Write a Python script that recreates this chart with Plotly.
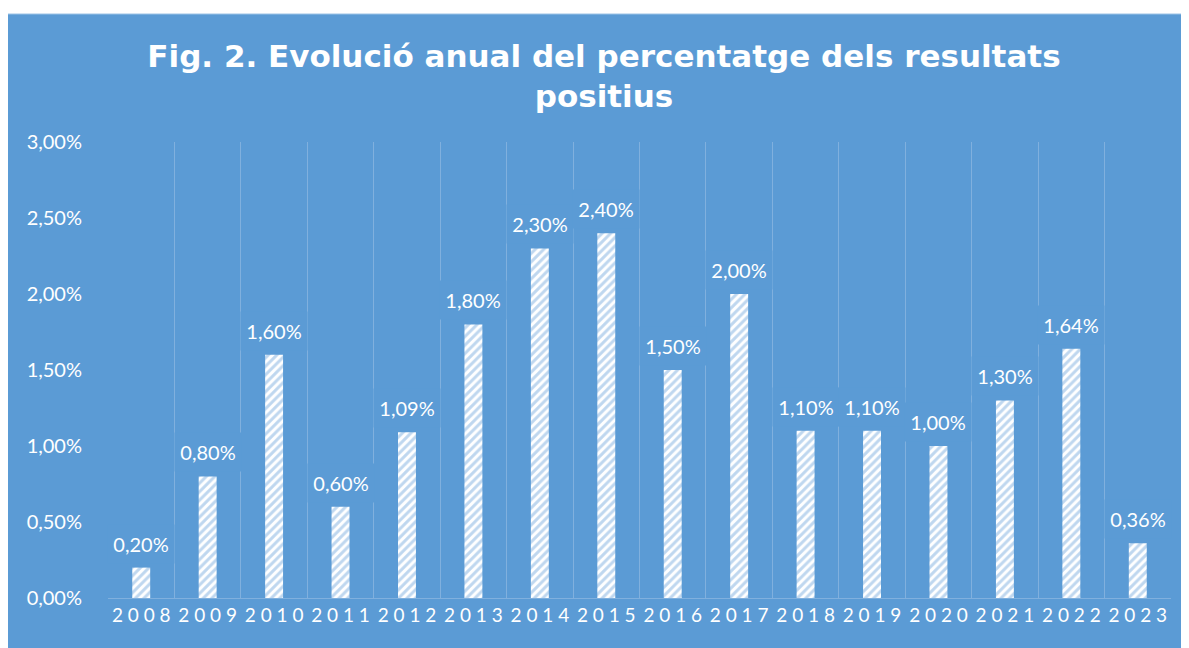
import plotly.graph_objects as go

years = ["2008", "2009", "2010", "2011", "2012", "2013", "2014", "2015",
         "2016", "2017", "2018", "2019", "2020", "2021", "2022", "2023"]
values = [0.0020, 0.0080, 0.0160, 0.0060, 0.0109, 0.0180, 0.0230, 0.0240,
          0.0150, 0.0200, 0.0110, 0.0110, 0.0100, 0.0130, 0.0164, 0.0036]
year_labels = [" ".join(y) for y in years]
y_ticks = [0, 0.005, 0.01, 0.015, 0.02, 0.025, 0.03]

BG = "#5B9BD5"
GRID = "#80B0DE"
LABEL_FONT = "Lato, Noto Sans, sans-serif"

fig = go.Figure()
fig.add_trace(go.Bar(
    x=years, y=values,
    width=0.27,
    marker=dict(
        color="white",
        line=dict(width=0),
        pattern=dict(shape="/", fgcolor="#7FB0E0", bgcolor="white",
                     size=6, solidity=0.5),
    ),
    hoverinfo="skip",
))

for i, v in enumerate(values):
    fig.add_annotation(
        x=i, y=v, yref="y", xref="x",
        text=f"{v*100:.2f}%".replace(".", ","),
        showarrow=False, yanchor="bottom", yshift=4,
        font=dict(family=LABEL_FONT, size=20, color="white"),
        bgcolor=BG, width=64, height=36,
    )

# figure is rendered with an 8px page offset
W, H = 1189, 648
L, R, T, B = 100, 26, 134, 58
pw, ph = W - L - R, H - T - B

fig.add_shape(type="rect", xref="paper", yref="paper", layer="below",
              x0=(-2 - L) / pw, x1=(W + 5 - L) / pw,
              y0=(-5 - B) / ph, y1=(H - B - 6) / ph,
              fillcolor=BG, line=dict(width=1, color="#9CC3E6"))

fig.update_layout(
    width=W, height=H,
    margin=dict(l=L, r=R, t=T, b=B, pad=0, autoexpand=False),
    paper_bgcolor="white",
    plot_bgcolor="rgba(0,0,0,0)",
    separators=",.",
    showlegend=False,
    title=dict(
        text="Fig. 2. Evolució anual del percentatge dels resultats<br>positius",
        x=596 / W, xanchor="center", y=1 - 59 / H, yanchor="top",
        font=dict(family="DejaVu Sans, sans-serif", size=31,
                  color="white", weight="bold", lineposition="none"),
    ),
    xaxis=dict(
        type="category", tickson="boundaries",
        tickvals=years, ticktext=year_labels,
        showgrid=True, gridcolor=GRID, gridwidth=1,
        showline=True, linecolor=GRID, linewidth=1,
        ticks="outside", ticklen=22, tickcolor="rgba(0,0,0,0)",
        tickangle=0, automargin=False,
        tickfont=dict(family=LABEL_FONT, size=19, color="white"),
        range=[-0.5, len(years) - 0.5],
    ),
    yaxis=dict(
        range=[0, 0.03], tickvals=y_ticks, tickformat=".2%",
        showgrid=False, zeroline=False, showline=False, automargin=False,
        tickfont=dict(family=LABEL_FONT, size=20, color="white"),
        ticks="outside", ticklen=21, tickcolor="rgba(0,0,0,0)",
    ),
    bargap=0.73,
)

fig.write_html("out.html")
